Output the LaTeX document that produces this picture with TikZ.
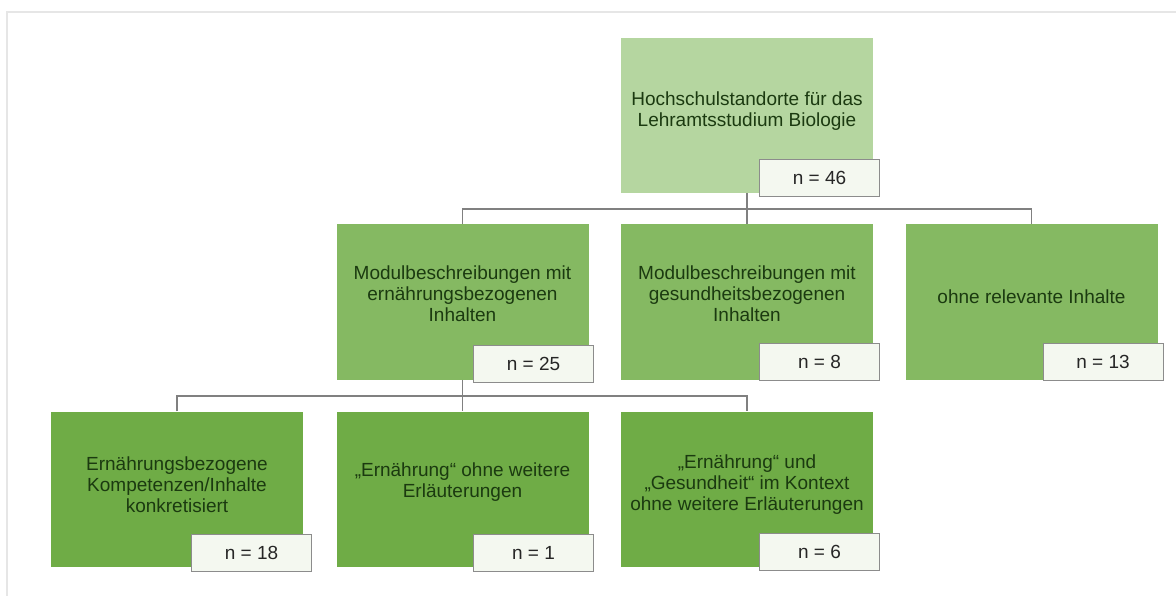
\documentclass[tikz,border=0pt]{standalone}
\usepackage{fontspec}
\setmainfont{Liberation Sans}
\definecolor{frame}{HTML}{E6E6E6}
\definecolor{lvlone}{HTML}{B5D6A0}
\definecolor{lvltwo}{HTML}{85B962}
\definecolor{lvlthree}{HTML}{6FAC46}
\definecolor{txtgreen}{HTML}{1B3A10}
\definecolor{connc}{HTML}{808080}
\definecolor{nfill}{HTML}{F4F8F0}
\definecolor{nborder}{HTML}{8C8C8C}
\begin{document}
\begin{tikzpicture}[x=1pt,y=-1pt,
  box/.style={draw=none,minimum width=252pt,minimum height=155pt,inner sep=0pt},
  boxone/.style={box,fill=lvlone},
  boxtwo/.style={box,fill=lvltwo},
  boxthree/.style={box,fill=lvlthree},
  txt/.style={align=center,text=txtgreen,font=\fontsize{19}{21}\selectfont,inner sep=0pt},
  nbox/.style={draw=nborder,line width=0.9pt,fill=nfill,minimum width=120pt,minimum height=37pt,inner sep=0pt,font=\fontsize{19}{22}\selectfont,text=black!85},
  conn/.style={draw=connc,line width=1.2pt}]
\useasboundingbox (0,0) rectangle (1176,596);
\fill[white] (0,0) rectangle (1176,596);
\draw[frame,line width=2pt] (7,596) -- (7,12) -- (1176,12);

% boxes
\node[boxone]   (top) at (747,115.5) {};
\node[boxtwo]   (A)   at (462.5,302) {};
\node[boxtwo]   (B)   at (747,302) {};
\node[boxtwo]   (C)   at (1031.5,302) {};
\node[boxthree] (D)   at (177,489) {};
\node[boxthree] (E)   at (462.5,489) {};
\node[boxthree] (F)   at (747,489) {};

% connectors
\coordinate (j1) at (747,209);
\coordinate (j2) at (462.5,396);
\draw[conn] (top.south) -- (j1);
\draw[conn] (A.north) |- (j1) -| (C.north);
\draw[conn] (j1) -- (B.north);
\draw[conn] (A.south) -- (E.north);
\draw[conn] (D.north) |- (j2) -| (F.north);

% texts
\node[txt] (ttop) at ([yshift=4pt]top.center) {Hochschulstandorte für das\\Lehramtsstudium Biologie};
\node[txt] (tA) at ([yshift=8pt]A.center) {Modulbeschreibungen mit\\ernährungsbezogenen\\Inhalten};
\node[txt] (tB) at ([yshift=8pt]B.center) {Modulbeschreibungen mit\\gesundheitsbezogenen\\Inhalten};
\node[txt] (tC) at ([yshift=5pt]C.center) {ohne relevante Inhalte};
\node[txt] (tD) at ([yshift=4pt]D.center) {Ernährungsbezogene\\Kompetenzen/Inhalte\\konkretisiert};
\node[txt] (tE) at ([yshift=7pt]E.center) {„Ernährung“ ohne weitere\\Erläuterungen};
\node[txt] (tF) at ([yshift=4pt]F.center) {„Ernährung“ und\\„Gesundheit“ im Kontext\\ohne weitere Erläuterungen};

% n boxes
\node[nbox] (ntop) at (819.5,177.5) {n = 46};
\node[nbox] (nA)   at (533.5,364) {n = 25};
\node[nbox] (nB)   at (819.5,362) {n = 8};
\node[nbox] (nC)   at (1103,362) {n = 13};
\node[nbox] (nD)   at (251.5,552.5) {n = 18};
\node[nbox] (nE)   at (533.5,552.5) {n = 1};
\node[nbox] (nF)   at (819.5,552) {n = 6};
\end{tikzpicture}
\end{document}
